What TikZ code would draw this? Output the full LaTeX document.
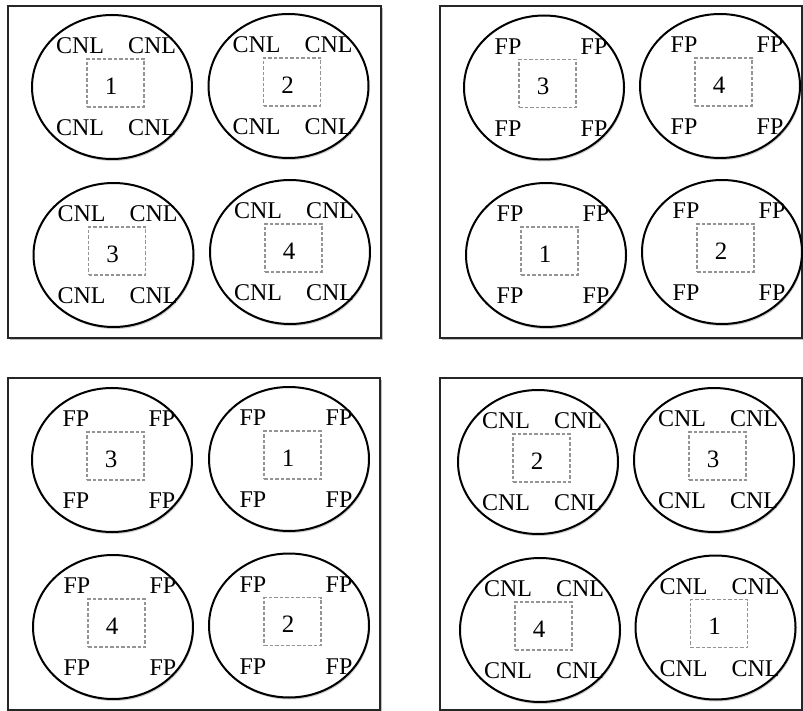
\documentclass[tikz,border=0pt]{standalone}
\usepackage{fontspec}
\setmainfont{Liberation Serif}
\usetikzlibrary{shadows,shapes.geometric}
\tikzset{
  x=1pt, y=-1pt,
  panel/.style={draw=black!85, line width=1.5pt, fill=white,
    drop shadow={shadow xshift=1.5pt, shadow yshift=-2pt, opacity=0.25, fill=black}},
  cellell/.style={ellipse, draw=black, line width=2pt, fill=white, inner sep=0pt,
    minimum width=160pt, minimum height=144pt,
    drop shadow={shadow xshift=1pt, shadow yshift=-2pt, opacity=0.2, fill=black}},
  dashbox/.style={draw=black!42, line width=1.1pt, dash pattern=on 3.5pt off 2pt,
    minimum width=57pt, minimum height=48pt, inner sep=0pt},
  lbl/.style={font=\fontsize{24}{27}\selectfont, inner sep=0pt},
  numtxt/.style={font=\fontsize{25}{28}\selectfont, inner sep=0pt},
}
% #1 name, #2 cx, #3 cy, #4 label, #5 number, #6 left offset, #7 right offset
\newcommand\mycell[7]{%
  \node[cellell] (#1) at (#2,#3) {};
  \node[dashbox] (#1-box) at ([shift={(3.5,-4)}]#1.center) {};
  \node[numtxt] (#1-num) at ([shift={(-1,-1)}]#1.center) {#5};
  \node[lbl] (#1-tl) at ([shift={(#6,-41)}]#1.center) {#4};
  \node[lbl] (#1-tr) at ([shift={(#7,-41)}]#1.center) {#4};
  \node[lbl] (#1-bl) at ([shift={(#6,41)}]#1.center) {#4};
  \node[lbl] (#1-br) at ([shift={(#7,41)}]#1.center) {#4};
}
\begin{document}
\begin{tikzpicture}
\useasboundingbox (0,0) rectangle (803,711);
% panels
\draw[panel] (8,6) rectangle (381,338);
\draw[panel] (440,6) rectangle (802,338);
\draw[panel] (8,378) rectangle (380,710);
\draw[panel] (440,378) rectangle (802,710);
% panel 1 (CNL)
\mycell{a1}{112}{87}{CNL}{1}{-32}{40}
\mycell{a2}{288.5}{86}{CNL}{2}{-32}{40}
\mycell{a3}{113.5}{255}{CNL}{3}{-32}{40}
\mycell{a4}{290}{252}{CNL}{4}{-32}{40}
% panel 2 (FP)
\mycell{b3}{544}{87.5}{FP}{3}{-36}{50}
\mycell{b4}{720}{86}{FP}{4}{-36}{50}
\mycell{b1}{546}{255}{FP}{1}{-36}{50}
\mycell{b2}{722}{252}{FP}{2}{-36}{50}
% panel 3 (FP)
\mycell{c3}{112}{460}{FP}{3}{-36}{50}
\mycell{c1}{289}{459}{FP}{1}{-36}{50}
\mycell{c4}{113}{627}{FP}{4}{-36}{50}
\mycell{c2}{289}{625.5}{FP}{2}{-36}{50}
% panel 4 (CNL)
\mycell{d2}{538}{462}{CNL}{2}{-32}{40}
\mycell{d3}{714}{460}{CNL}{3}{-32}{40}
\mycell{d4}{540}{630}{CNL}{4}{-32}{40}
\mycell{d1}{715.5}{627.5}{CNL}{1}{-32}{40}
\end{tikzpicture}
\end{document}
